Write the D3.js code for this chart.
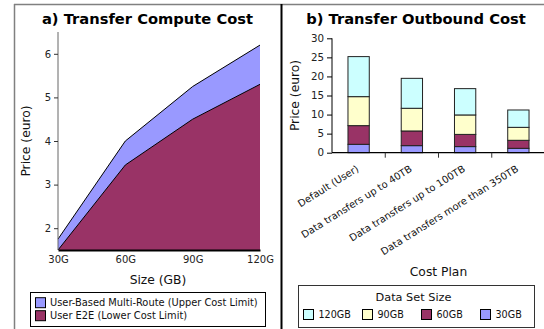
<!DOCTYPE html>
<html>
<head>
<meta charset="utf-8">
<script src="https://cdn.jsdelivr.net/npm/d3@7"></script>
<style>
  html, body { margin: 0; padding: 0; background: #fff; }
  svg { display: block; font-family: "DejaVu Sans", sans-serif; }
</style>
</head>
<body>
<svg id="chart" width="544" height="329"></svg>
<script>
// ---- Panel a) compute cost ----
const sizes = ["30G", "60G", "90G", "120G"];
const upperCost = [1.75, 4.0, 5.25, 6.2];   // User-Based Multi-Route
const lowerCost = [1.5, 3.45, 4.5, 5.3];    // User E2E
const computeTicks = [2, 3, 4, 5, 6];

// ---- Panel b) outbound cost ----
const plans = ["Default (User)", "Data transfers up to 40TB", "Data transfers up to 100TB", "Data transfers more than 350TB"];
const out30 = [2.2, 1.85, 1.6, 1.15];
const out60 = [4.9, 3.85, 3.2, 2.1];
const out90 = [7.6, 5.95, 5.1, 3.4];
const out120 = [10.5, 7.85, 6.9, 4.55];
const outboundTicks = [0, 5, 10, 15, 20, 25, 30];
const seriesNames = ["30GB", "60GB", "90GB", "120GB"];

const colors = { "30GB": "#9999ff", "60GB": "#993366", "90GB": "#ffffcc", "120GB": "#ccffff" };

const svg = d3.select("#chart");

// Panel frames
svg.append("line").attr("x1", 14).attr("x2", 544).attr("y1", 4.5).attr("y2", 4.5)
  .attr("stroke", "#808080").attr("stroke-width", 1.5);
svg.append("line").attr("x1", 14.5).attr("x2", 14.5).attr("y1", 4).attr("y2", 329)
  .attr("stroke", "#808080").attr("stroke-width", 1.5);
svg.append("line").attr("x1", 281.5).attr("x2", 281.5).attr("y1", 4).attr("y2", 329)
  .attr("stroke", "#000").attr("stroke-width", 2);

// ================= Panel a =================
const xa = d3.scalePoint().domain(sizes).range([58, 260]);
const ya = d3.scaleLinear().domain([1.5, 6.5]).range([250, 32]);

svg.append("text").attr("x", 147.5).attr("y", 24).attr("text-anchor", "middle")
  .attr("font-size", 14.7).attr("font-weight", "bold").text("a) Transfer Compute Cost");

const areaGen = vals => d3.area()
  .x((d, i) => xa(sizes[i]))
  .y0(ya(1.5))
  .y1(d => ya(d))(vals);
const lineGen = vals => d3.line()
  .x((d, i) => xa(sizes[i]))
  .y(d => ya(d))(vals);

svg.append("path").attr("d", areaGen(upperCost)).attr("fill", colors["30GB"]);
svg.append("path").attr("d", areaGen(lowerCost)).attr("fill", colors["60GB"]);
svg.append("path").attr("d", lineGen(upperCost)).attr("fill", "none").attr("stroke", "#000").attr("stroke-width", 1);
svg.append("path").attr("d", lineGen(lowerCost)).attr("fill", "none").attr("stroke", "#000").attr("stroke-width", 1);

// y axis (a)
const yAxisA = svg.append("g").attr("transform", "translate(58,0)")
  .call(d3.axisLeft(ya).tickValues(computeTicks).tickSize(4).tickPadding(3).tickFormat(d3.format("d")));
yAxisA.select(".domain").attr("stroke", "#666").attr("d", `M0,${ya(6.5)}V${ya(1.5)}`);
yAxisA.selectAll(".tick line").attr("stroke", "#333");
yAxisA.selectAll("text").attr("font-size", 10).attr("fill", "#222").attr("font-family", "DejaVu Sans");

// x axis (a)
const xAxisA = svg.append("g").attr("transform", `translate(0,${ya(1.5)})`)
  .call(d3.axisBottom(xa).tickSize(0).tickPadding(6));
xAxisA.select(".domain").attr("stroke", "#000").attr("stroke-width", 2);
xAxisA.selectAll("text").attr("font-size", 10).attr("fill", "#222").attr("font-family", "DejaVu Sans");

svg.append("text").attr("x", 158).attr("y", 284).attr("text-anchor", "middle")
  .attr("font-size", 12.3).attr("fill", "#111").text("Size (GB)");
svg.append("text").attr("transform", `translate(30,${(ya(6.5) + ya(1.5)) / 2}) rotate(-90)`)
  .attr("text-anchor", "middle").attr("font-size", 12.3).attr("fill", "#111").text("Price (euro)");

// legend (a)
const legA = svg.append("g");
legA.append("rect").attr("x", 30.5).attr("y", 292.5).attr("width", 235).attr("height", 34)
  .attr("fill", "#fff").attr("stroke", "#000").attr("stroke-width", 1);
[["User-Based Multi-Route (Upper Cost Limit)", colors["30GB"]], ["User E2E (Lower Cost Limit)", colors["60GB"]]]
  .forEach(([label, c], i) => {
    const cy = 302.7 + i * 13;
    legA.append("rect").attr("x", 35.5).attr("y", cy - 5).attr("width", 10).attr("height", 10)
      .attr("fill", c).attr("stroke", "#000").attr("stroke-width", 1);
    legA.append("text").attr("x", 50).attr("y", cy).attr("dy", "0.35em")
      .attr("font-size", 9.85).attr("fill", "#111").text(label);
  });

// ================= Panel b =================
const xb = d3.scaleBand().domain(plans).range([332, 545]).paddingInner(0.6).paddingOuter(0.3);
const yb = d3.scaleLinear().domain([0, 30]).range([152.7, 38.3]);

svg.append("text").attr("x", 416).attr("y", 24).attr("text-anchor", "middle")
  .attr("font-size", 14.7).attr("font-weight", "bold").text("b) Transfer Outbound Cost");

const table = plans.map((p, i) => ({ plan: p, "30GB": out30[i], "60GB": out60[i], "90GB": out90[i], "120GB": out120[i] }));
const stacked = d3.stack().keys(seriesNames)(table);

svg.append("g").selectAll("g").data(stacked).join("g")
  .attr("fill", d => colors[d.key])
  .selectAll("rect").data(d => d).join("rect")
  .attr("x", d => xb(d.data.plan))
  .attr("width", xb.bandwidth())
  .attr("y", d => yb(d[1]))
  .attr("height", d => yb(d[0]) - yb(d[1]))
  .attr("stroke", "#222").attr("stroke-width", 1);

// y axis (b)
const yAxisB = svg.append("g").attr("transform", "translate(332,0)")
  .call(d3.axisLeft(yb).tickValues(outboundTicks).tickSize(5).tickPadding(3));
yAxisB.select(".domain").attr("stroke", "#000").attr("d", `M0,${yb(30)}V${yb(0)}`);
yAxisB.selectAll("text").attr("font-size", 10.3).attr("fill", "#222").attr("font-family", "DejaVu Sans");

// x axis (b): line plus separators between bands
svg.append("line").attr("x1", 332).attr("x2", 544).attr("y1", yb(0)).attr("y2", yb(0))
  .attr("stroke", "#000").attr("stroke-width", 1.2);
const step = xb.step();
plans.slice(1).forEach(p => {
  const bx = xb(p) - xb.paddingOuter() * step;
  svg.append("line").attr("x1", bx).attr("x2", bx).attr("y1", yb(0)).attr("y2", yb(0) + 5)
    .attr("stroke", "#333").attr("stroke-width", 1);
});
svg.append("g").selectAll("text").data(plans).join("text")
  .attr("transform", d => `translate(${xb(d) + xb.bandwidth() / 2 - 1},${yb(0) + 15}) rotate(-32)`)
  .attr("text-anchor", "end").attr("dy", "0.35em")
  .attr("font-size", 9.9).attr("fill", "#111").text(d => d);

svg.append("text").attr("x", 438.5).attr("y", 276).attr("text-anchor", "middle")
  .attr("font-size", 12.3).attr("fill", "#111").text("Cost Plan");
svg.append("text").attr("transform", `translate(299,${(yb(30) + yb(0)) / 2}) rotate(-90)`)
  .attr("text-anchor", "middle").attr("font-size", 12.3).attr("fill", "#111").text("Price (euro)");

// legend (b)
const legB = svg.append("g");
legB.append("rect").attr("x", 298.5).attr("y", 285.5).attr("width", 236).attr("height", 42)
  .attr("fill", "#fff").attr("stroke", "#333").attr("stroke-width", 1);
legB.append("text").attr("x", 413.5).attr("y", 297).attr("dy", "0.35em").attr("text-anchor", "middle")
  .attr("font-size", 11.3).attr("fill", "#111").text("Data Set Size");
const legendOrder = ["120GB", "90GB", "60GB", "30GB"];
const legX = [303.5, 362.5, 421.5, 480.5];
legendOrder.forEach((k, i) => {
  legB.append("rect").attr("x", legX[i]).attr("y", 309.5).attr("width", 10).attr("height", 10)
    .attr("fill", colors[k]).attr("stroke", "#000").attr("stroke-width", 1);
  legB.append("text").attr("x", legX[i] + 15).attr("y", 315).attr("dy", "0.35em")
    .attr("font-size", 9.6).attr("fill", "#111").text(k);
});
</script>
</body>
</html>
